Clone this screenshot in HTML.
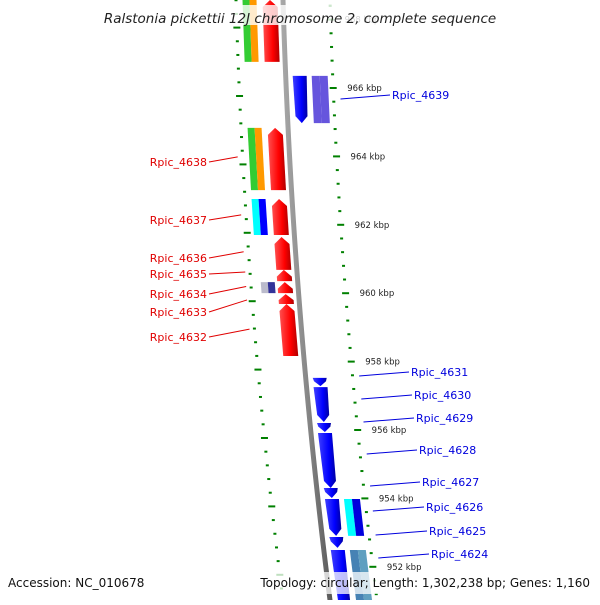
<!DOCTYPE html>
<html><head><meta charset="utf-8"><style>
body{margin:0;background:#fff}
svg text{font-family:"DejaVu Sans","Liberation Sans",sans-serif}
</style></head><body>
<svg id="map" width="600" height="600" viewBox="0 0 600 600" xmlns="http://www.w3.org/2000/svg">
<defs>
<linearGradient id="gRed" x1="0" x2="1"><stop offset="0" stop-color="#ff5050"/><stop offset="0.6" stop-color="#ff0000"/><stop offset="1" stop-color="#b00000"/></linearGradient>
<linearGradient id="gBlue" x1="0" x2="1"><stop offset="0" stop-color="#4040ff"/><stop offset="0.6" stop-color="#0000ff"/><stop offset="1" stop-color="#0000a0"/></linearGradient>
<linearGradient id="gBb" x1="0" x2="1"><stop offset="0" stop-color="#aaa"/><stop offset="0.5" stop-color="#888"/><stop offset="1" stop-color="#555"/></linearGradient>
</defs>
<g id="layer"></g>
</svg>
<script>
// data
const majorTicks=[968,966,964,962,960,958,956,954,952];
const fwdNames=["","Rpic_4638","Rpic_4637","Rpic_4636","Rpic_4635","Rpic_4634","Rpic_4633","Rpic_4632"];
const fwdStart=[968.69,964.95,962.87,961.76,960.80,960.44,960.09,959.80];
const fwdEnd=[966.88,963.13,961.82,960.80,960.47,960.12,959.80,958.28];
const revNames=["Rpic_4639","Rpic_4631","Rpic_4630","Rpic_4629","Rpic_4628","Rpic_4627","Rpic_4626","Rpic_4625","Rpic_4624"];
const revStart=[966.47,957.64,957.37,956.32,956.03,954.42,954.10,952.99,952.61];
const revEnd=[965.09,957.40,956.35,956.06,954.42,954.13,953.02,952.67,950.85];
const fwdLabelY=[0,162,220,258,274,294,312,337];
const revLabelY=[95,372,395,418,450,482,507,531,554];

const NS="http://www.w3.org/2000/svg";
const L=document.getElementById('layer');
function yOf(k){return 92+(966-k)*34.2;}
function bb(y){return 283+0.0291*y+0.000082*y*y;}
function mk(t,a){const e=document.createElementNS(NS,t);for(const k in a)e.setAttribute(k,a[k]);L.appendChild(e);return e;}

// backbone
let pts=[];for(let y=-5;y<=605;y+=10)pts.push((bb(y)-2.5)+','+y);for(let y=605;y>=-5;y-=10)pts.push((bb(y)+2.5)+','+y);
let b=mk('polygon',{points:pts.join(' '),fill:'url(#gBb)'});



// ticks
for(let k=968.8;k>=950.6;k-=0.4){
  const kk=Math.round(k*10)/10;const major=Math.abs(kk-Math.round(kk))<0.01&&Math.round(kk)%2===0;
  for(const side of [-1,1]){
    const y=yOf(kk)-side*4;const x=bb(y)+side*47;
    const w=major?7:3;
    const t=mk('rect',{x:x-w/2,y:y-1,width:w,height:2,fill:'#008000'});
    
    
  }
}
majorTicks.forEach(k=>{
  const y=yOf(k)-4;const x=bb(y)+47+14;
  const t=mk('text',{x:x,y:y+3,'font-size':8.5,fill:'#222'});t.textContent=k+' kbp';
  
  
});

function gene(y1,y2,off,w,fill,dir,name){
  const xl=y=>bb(y)+off-w/2, xr=y=>bb(y)+off+w/2;
  const h=Math.min(7,(y2-y1)*0.6);let p;
  if(dir<0){
    const c=bb(y1)+off;
    p=[[c,y1],[xr(y1+h),y1+h],[xr(y2),y2],[xl(y2),y2],[xl(y1+h),y1+h]];
  }else if(dir>0){
    const c=bb(y2)+off;
    p=[[xl(y1),y1],[xr(y1),y1],[xr(y2-h)-1,y2-h],[c,y2],[xl(y2-h)+1,y2-h]];
  }else p=[[xl(y1),y1],[xr(y1),y1],[xr(y2),y2],[xl(y2),y2]];
  const g=mk('polygon',{points:p.map(q=>q.join(',')).join(' '),fill:fill});
  
  
}
const fwdCog=[['#33cc33','#ff9900'],['#33cc33','#ff9900'],['#00ffff','#0000ff'],null,null,['#bbbbcc','#333399'],null,null];
fwdStart.forEach((s,i)=>{
  const y1=yOf(s),y2=yOf(fwdEnd[i]);
  gene(y1,y2,-13,15,'url(#gRed)',-1,'gene-'+(fwdNames[i]||'partial').toLowerCase().replace('_','-'));
  const c=fwdCog[i];
  if(c){const off=i===5?-30:-33.5;const w=7;
    gene(y1,y2,off-w/2,w,c[0],0,'cog-bar');gene(y1,y2,off+w/2,w,c[1],0,'cog-bar');}
  if(fwdNames[i]){
    const ly=fwdLabelY[i];const t=mk('text',{x:207,y:ly+4,'font-size':11,fill:'#e00000','text-anchor':'end'});t.textContent=fwdNames[i];
    
    
    const gy=(y1+y2)/2;const ln=mk('line',{x1:209,y1:ly,x2:bb(gy)-52,y2:gy-3+(ly-gy)*0.3,stroke:'#e00000','stroke-width':1});
    
    
  }
});
const revCog=[['#6655dd','#6655dd'],null,null,null,null,null,['#00ffff','#0000dd'],null,['#4682b4','#5f9fc0']];
revStart.forEach((s,i)=>{
  const y1=yOf(s),y2=yOf(revEnd[i]);
  gene(y1,y2,14,14,'url(#gBlue)',1,'gene-'+revNames[i].toLowerCase().replace('_','-'));
  const c=revCog[i];
  if(c){gene(y1,y2,34-4,8,c[0],0,'cog-bar');gene(y1,y2,34+4,8,c[1],0,'cog-bar');}
  const ly=revLabelY[i];const x0=[392,411,414,416,419,422,426,429,431][i];
  const t=mk('text',{x:x0,y:ly+4,'font-size':11,fill:'#0000dd'});t.textContent=revNames[i];
  
  
  const ln=mk('line',{x1:bb(ly)+54,y1:ly+4,x2:x0-2,y2:ly,stroke:'#0000dd','stroke-width':1});
  
  
});
// title & footer
let r=mk('rect',{x:98,y:5,width:404,height:20,fill:'#fff','fill-opacity':0.8});

let tt=mk('text',{x:300,y:23,'font-size':13.5,'font-style':'italic','text-anchor':'middle',fill:'#222'});tt.textContent='Ralstonia pickettii 12J chromosome 2, complete sequence';

r=mk('rect',{x:0,y:572,width:600,height:22,fill:'#fff','fill-opacity':0.75});

let f1=mk('text',{x:8,y:587,'font-size':12,fill:'#111'});f1.textContent='Accession: NC_010678';

let f2=mk('text',{x:590,y:587,'font-size':12,fill:'#111','text-anchor':'end'});f2.textContent='Topology: circular; Length: 1,302,238 bp; Genes: 1,160';

</script>
</body></html>
